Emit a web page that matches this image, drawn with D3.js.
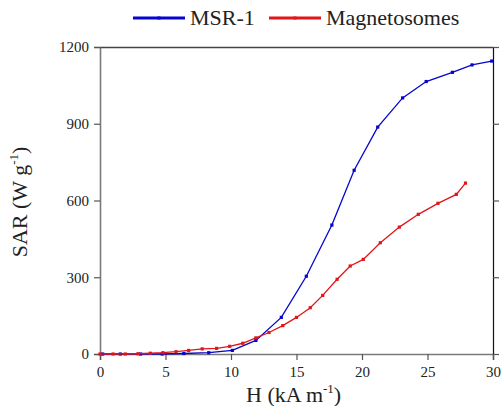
<!DOCTYPE html>
<html>
<head>
<meta charset="utf-8">
<script src="https://cdn.jsdelivr.net/npm/d3@7"></script>
<style>
  body { margin: 0; background: #fff; }
</style>
</head>
<body>
<div id="chart"></div>
<script>
// field strength (kA/m) and SAR (W/g)
const msrH   = [0.2, 1.55, 3.1, 4.75, 6.4, 8.3, 10.1, 11.9, 13.84, 15.75, 17.7, 19.4, 21.2, 23.1, 24.9, 26.9, 28.4, 29.9];
const msrSAR = [0, 0, 0, 0, 2, 5, 14, 53, 143, 304, 504, 718, 887, 1001, 1065, 1101, 1130, 1145];

const magH   = [0, 1.0, 1.93, 2.9, 3.84, 4.8, 5.8, 6.77, 7.8, 8.9, 9.9, 10.9, 11.9, 12.9, 13.95, 15.0, 16.05, 17.0, 18.1, 19.1, 20.1, 21.4, 22.85, 24.3, 25.8, 27.2, 27.9];
const magSAR = [0, 0, 0, 1, 3, 5, 9, 14, 20, 22, 30, 42, 63, 84, 111, 143, 181, 229, 292, 344, 370, 435, 496, 546, 589, 624, 668];

const xTicks = [0, 5, 10, 15, 20, 25, 30];
const yTicks = [0, 300, 600, 900, 1200];
const seriesNames = ["MSR-1", "Magnetosomes"];
const seriesColors = ["#0505cf", "#e0161a"];

const FONT = "'Liberation Serif', 'Times New Roman', serif";

const width = 503, height = 406;
const margin = { t: 47, r: 10, b: 52, l: 100 };
const w = width - margin.l - margin.r;
const h = height - margin.t - margin.b;

const svg = d3.select("#chart").append("svg")
    .attr("width", width)
    .attr("height", height)
    .style("font-family", FONT);

const g = svg.append("g").attr("transform", `translate(${margin.l},${margin.t})`);

const x = d3.scaleLinear().domain([0, 30]).range([0, w]);
const y = d3.scaleLinear().domain([0, 1200]).range([h, 0]);

// axes
const xAxisG = g.append("g").attr("transform", `translate(0,${h})`)
    .call(d3.axisBottom(x).tickValues(xTicks).tickSize(6).tickPadding(6).tickFormat(d3.format("d")));
const yAxisG = g.append("g")
    .call(d3.axisLeft(y).tickValues(yTicks).tickSize(6).tickPadding(5).tickFormat(d3.format("d")));
const rAxisG = g.append("g").attr("transform", `translate(${w},0)`)
    .call(d3.axisRight(y).tickValues(yTicks).tickSize(6).tickFormat(""));
const tAxisG = g.append("g")
    .call(d3.axisTop(x).tickValues([]).tickSizeOuter(0));

[xAxisG, yAxisG, rAxisG, tAxisG].forEach(a => a.attr("font-family", null));

[xAxisG, yAxisG].forEach(a => {
    a.select(".domain").attr("stroke", "#7a7a7a").attr("stroke-width", 1.6);
    a.selectAll(".tick line").attr("stroke", "#555").attr("stroke-width", 1.2);
    a.selectAll(".tick text")
        .style("font-family", FONT)
        .style("font-size", "15px")
        .attr("fill", "#222");
});
rAxisG.select(".domain").attr("stroke", "#111").attr("stroke-width", 1.2);
rAxisG.selectAll(".tick line").attr("stroke", "#555").attr("stroke-width", 1.2);
tAxisG.select(".domain").attr("stroke", "#444").attr("stroke-width", 1.4);

// series
const series = [
    { name: seriesNames[0], color: seriesColors[0], pts: msrH.map((v, i) => [v, msrSAR[i]]) },
    { name: seriesNames[1], color: seriesColors[1], pts: magH.map((v, i) => [v, magSAR[i]]) }
];

const line = d3.line().x(d => x(d[0])).y(d => y(d[1]));

series.forEach(s => {
    g.append("path")
        .attr("d", line(s.pts))
        .attr("fill", "none")
        .attr("stroke", s.color)
        .attr("stroke-width", 1.3);
    g.selectAll(null).data(s.pts).join("rect")
        .attr("x", d => x(d[0]) - 1.6)
        .attr("y", d => y(d[1]) - 1.6)
        .attr("width", 3.2).attr("height", 3.2)
        .attr("fill", s.color);
});

// axis titles
const xt = svg.append("text")
    .attr("x", 246).attr("y", 402)
    .attr("fill", "#222")
    .style("font-family", FONT)
    .style("font-size", "22px");
xt.append("tspan").text("H (kA m");
xt.append("tspan").style("font-size", "13px").attr("dy", -9).text("-1");
xt.append("tspan").attr("dy", 9).text(")");

const yt = svg.append("text")
    .attr("transform", "translate(27,202) rotate(-90)")
    .attr("text-anchor", "middle")
    .attr("fill", "#222")
    .style("font-family", FONT)
    .style("font-size", "22px");
yt.append("tspan").text("SAR (W g");
yt.append("tspan").style("font-size", "13px").attr("dy", -9).text("-1");
yt.append("tspan").attr("dy", 9).text(")");

// legend
const legendX = [133, 269];
series.forEach((s, i) => {
    const lg = svg.append("g").attr("transform", `translate(${legendX[i]},18)`);
    lg.append("line").attr("x1", 0).attr("x2", 52).attr("y1", 0).attr("y2", 0)
        .attr("stroke", s.color).attr("stroke-width", 3);
    lg.append("rect").attr("x", 24.5).attr("y", -1.5).attr("width", 3).attr("height", 3)
        .attr("fill", s.color);
    lg.append("text").attr("x", 57).attr("y", 7)
        .attr("fill", "#222")
        .style("font-family", FONT)
        .style("font-size", "22px")
        .text(s.name);
});
</script>
</body>
</html>
